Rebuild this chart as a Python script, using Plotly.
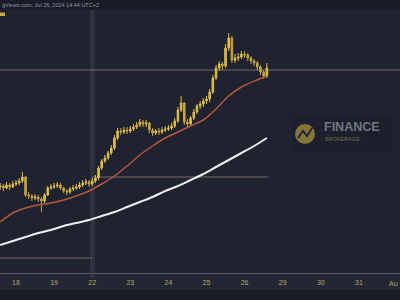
import plotly.graph_objects as go
import pandas as pd

# ---------------- data (price units are arbitrary; no price scale visible) ----------------
first_open = 86
close = [87, 85, 88, 86, 89, 90, 92, 96, 78, 77, 75, 76, 74, 72, 78, 85, 86, 87, 88, 85,
         82, 81, 84, 85, 86, 88, 90, 91, 89, 92, 95, 105, 112, 115, 120, 125, 135, 142, 141, 143,
         142, 144, 146, 148, 151, 149, 150, 143, 140, 142, 141, 143, 144, 145, 147, 152, 163, 170, 151, 149,
         155, 161, 167, 169, 172, 174, 181, 195, 205, 209, 207, 225, 235, 213, 215, 216, 219, 218, 215, 212,
         210, 206, 201, 197, 205]
high = [90, 89, 91, 90, 92, 93, 95, 101, 97, 81, 79, 79, 78, 76, 80, 87, 89, 90, 91, 90,
        86, 84, 86, 88, 89, 91, 93, 94, 93, 95, 98, 107, 114, 118, 122, 128, 138, 145, 145, 146,
        146, 147, 149, 151, 154, 153, 153, 151, 145, 144, 145, 146, 147, 148, 150, 155, 166, 177, 171, 154,
        157, 164, 169, 172, 175, 177, 184, 198, 208, 212, 211, 229, 240, 237, 219, 220, 222, 222, 220, 217,
        214, 212, 208, 203, 210]
low = [83, 82, 84, 83, 85, 87, 88, 90, 76, 74, 72, 73, 71, 61, 70, 77, 83, 84, 85, 83,
       80, 78, 79, 82, 83, 84, 86, 88, 86, 87, 90, 93, 103, 110, 113, 118, 123, 133, 138, 139,
       139, 140, 142, 144, 146, 146, 146, 140, 137, 138, 138, 139, 141, 142, 143, 145, 150, 161, 148, 146,
       147, 153, 159, 164, 166, 169, 171, 179, 193, 202, 203, 205, 222, 210, 210, 212, 214, 215, 212, 209,
       207, 203, 198, 194, 195]

# moving averages sampled every 8 hours (every 4th candle)
ma_fast = [51, 60, 65, 68, 70, 73, 77, 82, 89, 97, 107, 118, 127, 135, 141, 147, 153, 164, 177, 186, 192, 197]
ma_slow = [28, 32, 36, 40, 43, 47, 50, 53, 57, 61, 66, 71, 76, 82, 87, 93, 99, 106, 113, 120, 127, 135]

level_top = 203
level_mid = 96
level_low = 15

tick_dates = ["2024-07-18", "2024-07-19", "2024-07-22", "2024-07-23", "2024-07-24", "2024-07-25",
              "2024-07-26", "2024-07-29", "2024-07-30", "2024-07-31"]
tick_labels = ["18", "19", "22", "23", "24", "25", "26", "29", "30", "31"]
edge_tick_label = "Au"   # month label cut by the right edge in the original

# 2-hour candle timestamps (weekdays only)
times = []
t = pd.Timestamp("2024-07-17 14:00")
while len(times) < len(close):
    if t.weekday() < 5:
        times.append(t)
    t += pd.Timedelta(hours=2)
opens = [first_open] + close[:-1]
ma_times = times[::4]

gold = "#e2bd4a"
fig = go.Figure()
fig.add_trace(go.Candlestick(
    x=times, open=opens, high=high, low=low, close=close,
    increasing=dict(line=dict(color=gold, width=1), fillcolor=gold),
    decreasing=dict(line=dict(color="#c9a53e", width=1), fillcolor="#c9a53e"),
    whiskerwidth=0, hoverinfo="skip"))
fig.add_trace(go.Scatter(x=ma_times, y=ma_fast, mode="lines",
                         line=dict(color="#b5573c", width=1.5, shape="spline", smoothing=0.8), hoverinfo="skip"))
fig.add_trace(go.Scatter(x=ma_times, y=ma_slow, mode="lines",
                         line=dict(color="#eceef2", width=2, shape="spline", smoothing=0.8), hoverinfo="skip"))

H = 263.0  # plot height in px
def py(px):  # paper y from pixel y
    return (273 - px) / H

shapes = [
    # top bar
    dict(type="rect", xref="paper", yref="paper", x0=0, x1=1, y0=1, y1=1 + 10 / H,
         fillcolor="#1a1d27", line=dict(width=0), layer="above"),
    # darker bottom strip
    dict(type="rect", xref="paper", yref="paper", x0=0, x1=1, y0=py(290), y1=py(301),
         fillcolor="#1a1d26", line=dict(width=0), layer="above"),
    # session separator band
    dict(type="rect", xref="x", yref="paper", x0="2024-07-19 22:45", x1="2024-07-22 01:45",
         y0=py(278), y1=1, fillcolor="rgba(255,255,255,0.07)", line=dict(width=0), layer="below"),
    # horizontal levels
    dict(type="line", xref="paper", yref="y", x0=0, x1=1, y0=level_top, y1=level_top,
         line=dict(color="rgba(150,128,120,0.75)", width=1), layer="below"),
    dict(type="line", xref="x", yref="y", x0="2024-07-22 00:00", x1="2024-07-26 15:00",
         y0=level_mid, y1=level_mid, line=dict(color="rgba(150,128,120,0.75)", width=1), layer="below"),
    dict(type="line", xref="paper", yref="y", x0=0, x1=0.23, y0=level_low, y1=level_low,
         line=dict(color="rgba(150,128,120,0.75)", width=1), layer="below"),
    # small tag top-left
    dict(type="rect", xref="paper", yref="paper", x0=0, x1=5 / 400, y0=py(16), y1=py(12.5),
         fillcolor="#c9a94a", line=dict(width=0)),
    # watermark box
    dict(type="rect", xref="paper", yref="paper", x0=293 / 400, x1=393 / 400, y0=py(152), y1=py(115),
         fillcolor="rgba(0,0,0,0.08)", line=dict(width=0)),
    # watermark circle
    dict(type="circle", xref="paper", yref="paper", x0=295 / 400, x1=315 / 400, y0=py(144), y1=py(124),
         fillcolor="#857536", line=dict(width=0)),
    dict(type="path", xref="paper", yref="paper",
         path="M {} {} L {} {} L {} {} L {} {}".format(298 / 400, py(138), 303 / 400, py(131),
                                                      307 / 400, py(136), 312 / 400, py(128)),
         line=dict(color="#232734", width=2)),
]
fig.update_layout(shapes=shapes)

fig.add_annotation(xref="paper", yref="paper", x=0, y=1 + 5 / H, xanchor="left", yanchor="middle",
                   text="gViews.com, Jul 26, 2024 14:44 UTC+2", showarrow=False,
                   font=dict(size=5.5, color="#8f95a3", family="Liberation Sans"))
fig.add_annotation(xref="paper", yref="paper", x=322 / 400, y=py(127), xanchor="left", yanchor="middle",
                   text="<b>FINANCE</b>", showarrow=False,
                   font=dict(size=12.5, color="#71767f", family="Liberation Sans"))
fig.add_annotation(xref="paper", yref="paper", x=323 / 400, y=py(139), xanchor="left", yanchor="middle",
                   text="BROKERAGE", showarrow=False,
                   font=dict(size=5.5, color="#6e6850", family="Liberation Sans"))
# month label at the right edge
fig.add_annotation(xref="paper", yref="paper", x=1, y=py(283.5), xanchor="right", yanchor="middle",
                   text=edge_tick_label, showarrow=False,
                   font=dict(size=7, color="#b7a564", family="Liberation Sans"))

fig.update_layout(
    width=400, height=300,
    margin=dict(l=0, r=0, t=10, b=27, pad=0),
    paper_bgcolor="#232734", plot_bgcolor="#1f2330",
    showlegend=False,
    xaxis=dict(type="date", range=["2024-07-17 13:55", "2024-08-01 01:53"],
               rangebreaks=[dict(bounds=["sat", "mon"])],
               tickmode="array", tickvals=tick_dates, ticktext=tick_labels,
               tickfont=dict(size=7, color="#b7a564", family="Liberation Sans"),
               ticklabelstandoff=3,
               showgrid=False, zeroline=False, showline=True, linecolor="#555a66", linewidth=1,
               ticks="", rangeslider=dict(visible=False), fixedrange=True),
    yaxis=dict(range=[0, 263], visible=False, fixedrange=True),
)

fig.write_html("out.html")
